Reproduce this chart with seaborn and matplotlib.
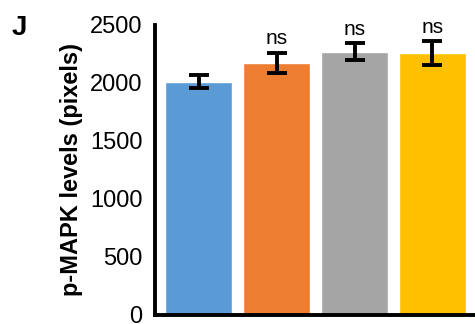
import matplotlib
matplotlib.use("Agg")
import matplotlib.pyplot as plt
import seaborn as sns
import pandas as pd

groups = ["G1", "G2", "G3", "G4"]
means = [2010, 2175, 2270, 2255]
errors = [55, 86, 72, 103]
signif = ["", "ns", "ns", "ns"]
colors = ["#5B9BD5", "#ED7D31", "#A5A5A5", "#FFC000"]

sns.set_style("white")
plt.rcParams['font.family'] = ['Liberation Sans', 'DejaVu Sans']
plt.rcParams['text.color'] = 'black'
plt.rcParams['axes.labelcolor'] = 'black'
plt.rcParams['ytick.color'] = 'black'

df = pd.DataFrame({"group": groups, "value": means})

fig = plt.figure(figsize=(4.75, 3.24), dpi=100)
ax = fig.add_axes([0.326, 0.028, 0.674, 0.895])

sns.barplot(data=df, x="group", y="value", hue="group", palette=colors,
            width=0.86, legend=False, ax=ax, saturation=1)
ax.errorbar(range(len(groups)), means, yerr=errors, fmt="none", ecolor="black",
            elinewidth=2.8, capsize=7.5, capthick=2.8)

for i, s in enumerate(signif):
    if s:
        ax.text(i, means[i] + errors[i] + 40, s, ha="center", va="bottom", fontsize=15)

ax.set_xlim(-0.56, 3.545)
ax.set_ylim(0, 2500)
ax.set_yticks([0, 500, 1000, 1500, 2000, 2500])
ax.tick_params(axis="y", length=0, pad=9, labelsize=17)
ax.set_xticks([])
ax.set_xlabel("")
ax.set_ylabel("p-MAPK levels (pixels)", fontsize=17, fontweight="bold", labelpad=5)
for side in ["top", "right"]:
    ax.spines[side].set_visible(False)
for side in ["left", "bottom"]:
    ax.spines[side].set_linewidth(2.8)
    ax.spines[side].set_color("black")

fig.text(0.025, 0.915, "J", fontsize=20, fontweight="bold", va="center")

plt.savefig("out.png", dpi=100)
